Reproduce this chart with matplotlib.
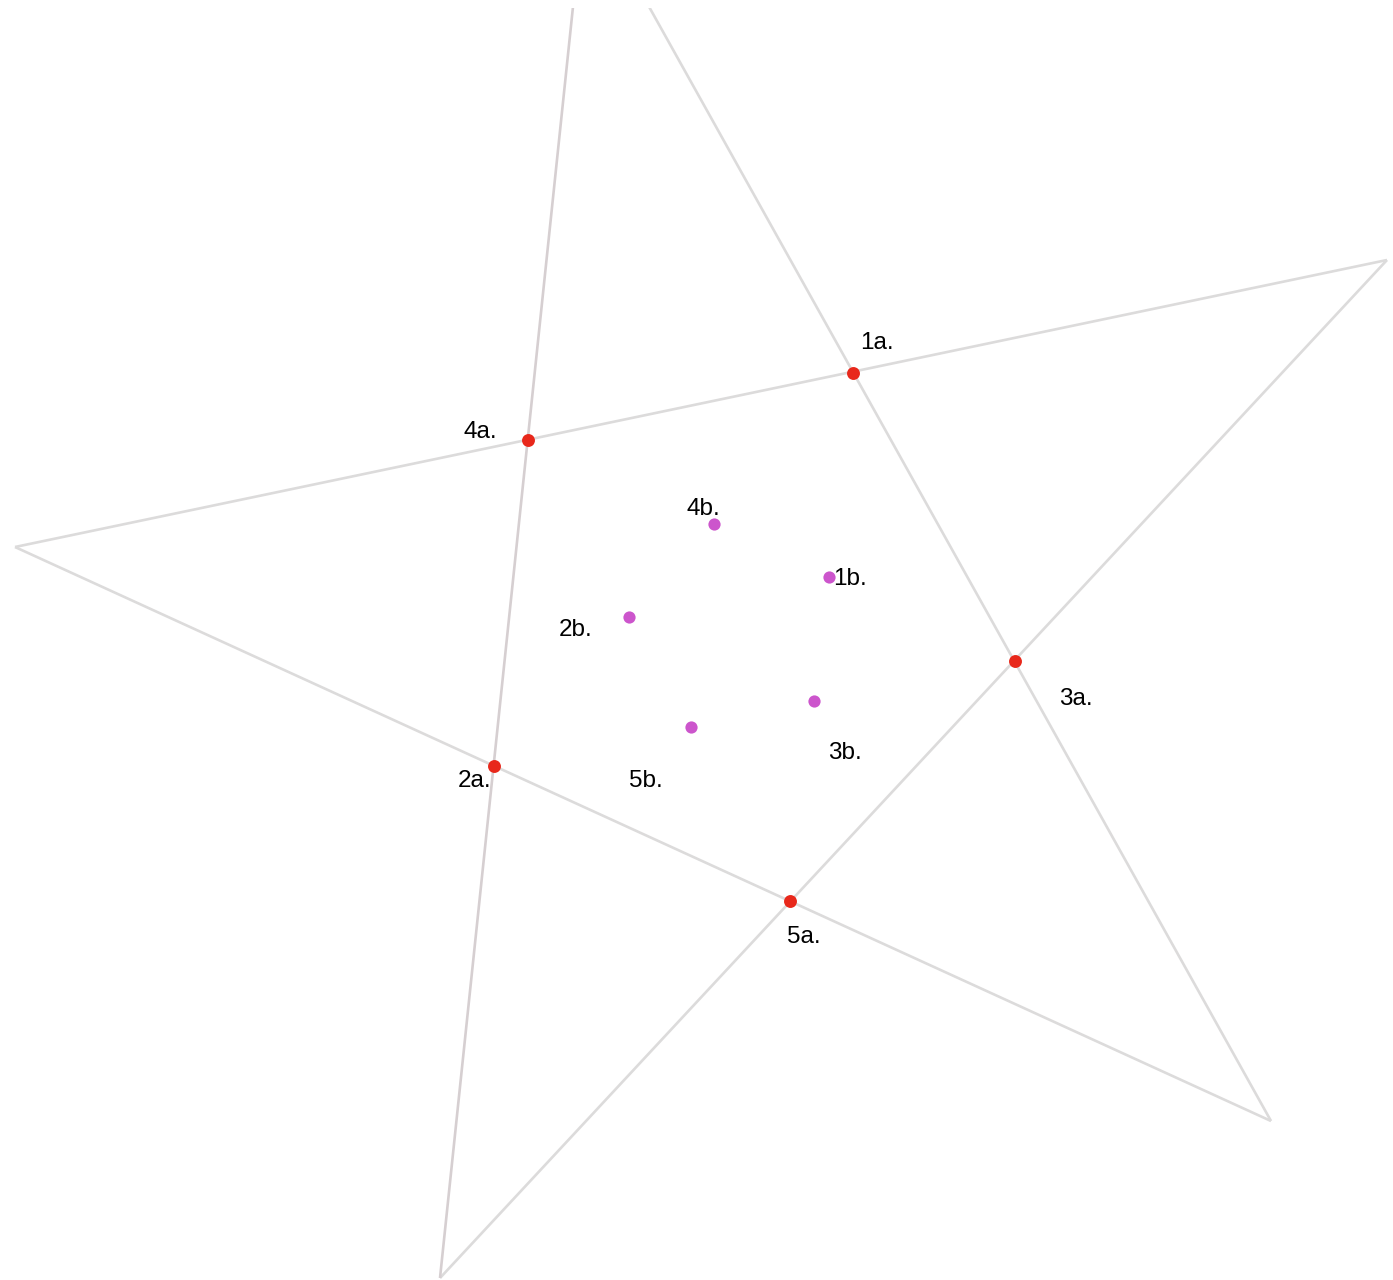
import matplotlib.pyplot as plt

plt.rcParams['font.family'] = ['Liberation Sans', 'DejaVu Sans']

# Star vertices (pixel-like coordinates, y grows downward); top vertex sits above the frame
star_x = [585, 1387, 1271, 440, 15]
star_y = [-108, 260, 1121, 1278, 547]

# Intersection points (red) and their labels
outer_names = ['1a.', '2a.', '3a.', '4a.', '5a.']
outer_x = [853, 494, 1015, 528, 790]
outer_y = [373, 766, 661, 440, 901]
outer_lx = [877, 475, 1076, 480, 804]
outer_ly = [343, 781, 699, 432, 937]

# Inner points (magenta) and their labels
inner_names = ['1b.', '2b.', '3b.', '4b.', '5b.']
inner_x = [829, 629, 814, 714, 691]
inner_y = [577, 617, 701, 524, 727]
inner_lx = [850, 576, 845, 703, 646]
inner_ly = [579, 630, 753, 509, 781]

fig = plt.figure(figsize=(13.93, 12.8), dpi=100)
ax = fig.add_axes([0, 0, 1, 1272 / 1280])
ax.set_xlim(0, 1393)
ax.set_ylim(1280, 8)
ax.axis('off')

# pentagram: connect every second vertex
order = [0, 2, 4, 1, 3, 0]
for k in range(5):
    a, b = order[k], order[k + 1]
    col = '#d6cfd1' if {a, b} == {0, 3} else '#dcdbdb'
    ax.plot([star_x[a], star_x[b]], [star_y[a], star_y[b]], color=col, lw=1.9,
            solid_capstyle='butt', zorder=1)

ax.plot(outer_x, outer_y, 'o', color='#e8281b', ms=9.3, mec='none', zorder=3)
ax.plot(inner_x, inner_y, 'o', color='#cc55cc', ms=8.8, mec='none', zorder=3)

for name, x, y in zip(outer_names + inner_names, outer_lx + inner_lx, outer_ly + inner_ly):
    ax.text(x, y, name, fontsize=17.5, ha='center', va='center', color='black', zorder=4)

plt.savefig('out.png', dpi=100)
